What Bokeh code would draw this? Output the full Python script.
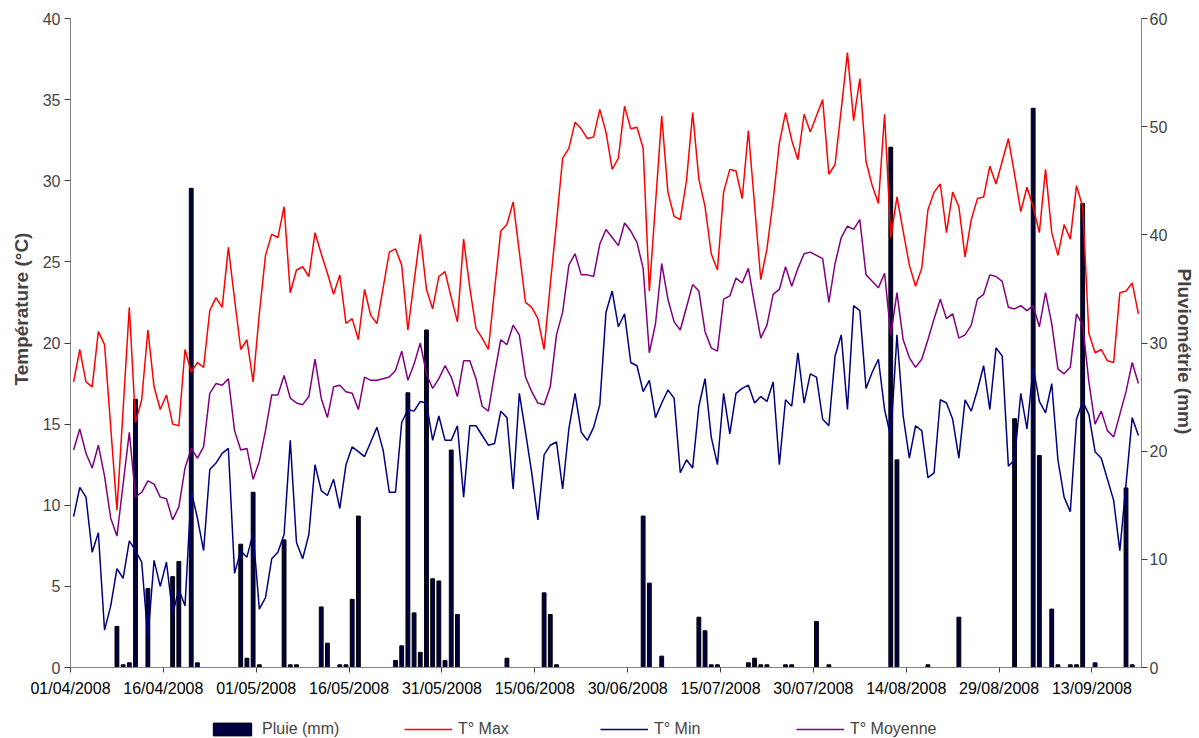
from bokeh.plotting import figure
from bokeh.layouts import column
from bokeh.models import (Range1d, LinearAxis, FixedTicker, Legend, LegendItem,
                          ColumnDataSource, Title)
from bokeh.embed import file_html
from bokeh.resources import INLINE

# ---------------- data ----------------
tick_labels = ["01/04/2008", "16/04/2008", "01/05/2008", "16/05/2008", "31/05/2008",
               "15/06/2008", "30/06/2008", "15/07/2008", "30/07/2008", "14/08/2008",
               "29/08/2008", "13/09/2008"]
tick_step = 15  # days between date labels

t_max = [17.6, 19.6, 17.6, 17.3, 20.7, 19.9, 14.8, 9.7, 15.9, 22.2,
         15.1, 16.5, 20.8, 17.3, 15.9, 16.8, 15.0, 14.9, 19.6, 18.2,
         18.8, 18.5, 22.0, 22.8, 22.2, 25.9, 22.7, 19.6, 20.2, 17.6,
         21.8, 25.4, 26.7, 26.5, 28.4, 23.1, 24.5, 24.7, 24.1, 26.8,
         25.5, 24.3, 23.0, 24.2, 21.2, 21.5, 20.2, 23.3, 21.7, 21.2,
         23.4, 25.6, 25.8, 24.8, 20.8, 23.8, 26.7, 23.3, 22.1, 24.1,
         24.4, 22.8, 21.3, 26.4, 23.4, 20.9, 20.3, 19.6, 23.3, 26.9,
         27.3, 28.7, 25.6, 22.5, 22.2, 21.5, 19.6, 23.6, 27.4, 31.4,
         32.0, 33.6, 33.2, 32.6, 32.7, 34.4, 33.0, 30.7, 31.4, 34.6,
         33.2, 33.3, 32.0, 23.2, 28.6, 34.0, 29.3, 27.8, 27.6, 30.0,
         34.2, 30.1, 28.4, 25.5, 24.5, 29.3, 30.7, 30.6, 28.9, 33.1,
         28.5, 23.9, 25.8, 28.8, 32.3, 34.2, 32.5, 31.3, 34.1, 33.0,
         34.0, 35.0, 30.4, 31.0, 34.4, 37.9, 33.7, 36.3, 31.2, 29.7,
         28.6, 34.1, 26.5, 29.0, 26.9, 24.8, 23.5, 24.6, 28.2, 29.3,
         29.8, 26.8, 29.3, 28.4, 25.3, 27.6, 28.9, 29.0, 30.9, 29.8,
         31.2, 32.6, 30.4, 28.1, 29.6, 28.4, 26.8, 30.7, 26.8, 25.4,
         27.3, 26.4, 29.7, 28.4, 20.6, 19.4, 19.6, 18.9, 18.8, 23.1,
         23.2, 23.7, 21.8]

t_min = [9.3, 11.1, 10.5, 7.1, 8.3, 2.3, 3.8, 6.1, 5.5, 7.8,
         7.2, 6.5, 1.8, 6.6, 5.0, 6.5, 3.3, 4.8, 3.8, 10.9,
         9.2, 7.2, 12.2, 12.6, 13.2, 13.5, 5.8, 7.2, 6.8, 8.3,
         3.6, 4.3, 6.7, 7.1, 8.2, 14.0, 7.7, 6.7, 8.2, 12.5,
         10.9, 10.6, 11.6, 9.8, 12.5, 13.6, 13.3, 13.0, 13.9, 14.8,
         13.4, 10.8, 10.8, 15.1, 15.9, 15.8, 16.4, 16.3, 14.0, 15.5,
         14.0, 14.0, 14.9, 10.5, 14.9, 14.9, 14.3, 13.7, 13.8, 15.8,
         15.4, 11.0, 16.9, 14.5, 12.0, 9.1, 13.1, 13.7, 13.9, 11.0,
         14.7, 16.9, 14.5, 14.0, 14.8, 16.2, 21.9, 23.2, 21.0, 21.8,
         18.8, 18.6, 17.0, 17.7, 15.4, 16.3, 17.1, 16.6, 12.0, 12.8,
         12.3, 16.1, 17.8, 14.2, 12.5, 16.9, 14.4, 16.9, 17.2, 17.4,
         16.3, 16.7, 16.4, 17.6, 12.5, 16.5, 16.1, 19.4, 16.3, 18.1,
         17.9, 15.3, 14.9, 19.2, 20.5, 15.9, 22.3, 22.0, 17.2, 18.2,
         19.0, 15.9, 14.2, 20.5, 15.5, 12.9, 14.9, 14.6, 11.7, 12.0,
         16.5, 16.3, 15.3, 12.9, 16.5, 15.8, 17.1, 18.6, 15.9, 19.7,
         19.2, 12.4, 12.8, 16.9, 14.7, 18.5, 16.4, 15.7, 17.5, 12.8,
         10.5, 9.6, 15.3, 16.4, 15.6, 13.3, 12.9, 11.6, 10.3, 7.2,
         11.3, 15.4, 14.3]

t_moy = [13.4, 14.7, 13.2, 12.3, 13.7, 11.8, 9.2, 8.1, 11.3, 14.5,
         10.5, 10.8, 11.5, 11.3, 10.5, 10.4, 9.1, 9.9, 12.3, 13.5,
         12.9, 13.6, 16.9, 17.5, 17.4, 17.8, 14.6, 13.4, 13.5, 11.6,
         12.7, 14.6, 16.8, 16.8, 18.0, 16.6, 16.3, 16.2, 16.7, 19.0,
         16.6, 15.4, 17.3, 17.4, 17.0, 16.9, 15.9, 17.9, 17.7, 17.7,
         17.8, 17.9, 18.3, 19.5, 17.7, 18.7, 20.0, 18.1, 17.2, 17.8,
         18.6, 17.9, 16.7, 18.9, 18.9, 17.8, 16.1, 15.8, 18.1, 20.2,
         19.9, 21.1, 20.5, 17.9, 17.0, 16.3, 16.2, 17.3, 20.5, 21.9,
         24.8, 25.5, 24.2, 24.2, 24.1, 26.1, 27.0, 26.5, 26.0, 27.4,
         26.9, 26.2, 24.6, 19.4, 21.2, 24.9, 22.7, 21.3, 20.8, 22.2,
         23.6, 23.2, 20.7, 19.7, 19.5, 22.7, 22.9, 24.0, 23.7, 24.6,
         22.4, 20.3, 21.1, 23.0, 23.3, 24.7, 23.5, 24.6, 25.5, 25.6,
         25.4, 25.2, 22.5, 24.9, 26.5, 27.2, 27.0, 27.6, 24.2, 23.8,
         23.4, 24.3, 20.5, 23.1, 20.2, 19.1, 18.5, 19.0, 20.2, 21.5,
         22.7, 21.5, 21.8, 20.3, 20.5, 21.1, 22.7, 23.0, 24.2, 24.1,
         23.8, 22.2, 22.1, 22.3, 22.0, 22.3, 21.0, 23.1, 21.2, 18.4,
         18.1, 18.5, 21.8, 21.1, 17.6, 15.0, 15.8, 14.6, 14.2, 15.6,
         17.0, 18.8, 17.5]

pluie = [0, 0, 0, 0, 0, 0, 0, 3.8, 0.25, 0.43,
         24.8, 0, 7.3, 0, 0, 0, 8.4, 9.8, 0, 44.3,
         0.43, 0, 0, 0, 0, 0, 0, 11.4, 0.86, 16.2,
         0.25, 0, 0, 0, 11.8, 0.25, 0.25, 0, 0, 0,
         5.6, 2.25, 0, 0.25, 0.25, 6.3, 14.0, 0, 0, 0,
         0, 0, 0.65, 2.0, 25.4, 5.05, 1.4, 31.2, 8.2, 8.0,
         0.65, 20.1, 4.9, 0, 0, 0, 0, 0, 0, 0,
         0.86, 0, 0, 0, 0, 0, 6.9, 4.9, 0.25, 0,
         0, 0, 0, 0, 0, 0, 0, 0, 0, 0,
         0, 0, 14.0, 7.8, 0, 1.05, 0, 0, 0, 0,
         0, 4.65, 3.4, 0.25, 0.25, 0, 0, 0, 0, 0.43,
         0.86, 0.25, 0.25, 0, 0, 0.25, 0.25, 0, 0, 0,
         4.25, 0, 0.25, 0, 0, 0, 0, 0, 0, 0,
         0, 0, 48.1, 19.2, 0, 0, 0, 0, 0.25, 0,
         0, 0, 0, 4.65, 0, 0, 0, 0, 0, 0,
         0, 0, 23.0, 0, 0, 51.7, 19.6, 0, 5.4, 0.25,
         0, 0.25, 0.25, 42.9, 0, 0.43, 0, 0, 0, 0,
         16.6, 0.25, 0]

series_names = ["Pluie (mm)", "T° Max", "T° Min", "T° Moyenne"]
series_colors = ["#000040", "#FF0000", "#000080", "#800080"]
axis_titles = ["Température (°C)", "Pluviométrie (mm)"]

# ---------------- main figure ----------------
n = len(t_max)
xc = [i + 0.5 for i in range(n)]
src = ColumnDataSource(dict(x=xc, tmax=t_max, tmin=t_min, tmoy=t_moy, pluie=pluie))

FONT = "Liberation Sans"
W = 1199

p = figure(width=W, height=718, output_backend="svg", toolbar_location=None,
           x_range=Range1d(0, n), y_range=Range1d(0, 40),
           min_border_left=70, min_border_right=57, min_border_top=18,
           min_border_bottom=51)
p.outline_line_color = None
p.xgrid.visible = False
p.ygrid.visible = False

p.extra_y_ranges = {"rain": Range1d(0, 60)}

p.vbar(x="x", top="pluie", width=0.62, source=src, y_range_name="rain",
       fill_color=series_colors[0], line_color="#000000", line_width=1)
p.line("x", "tmax", source=src, line_color=series_colors[1], line_width=1.5)
p.line("x", "tmin", source=src, line_color=series_colors[2], line_width=1.5)
p.line("x", "tmoy", source=src, line_color=series_colors[3], line_width=1.5)

# x axis
xa = p.xaxis[0]
xa.ticker = FixedTicker(ticks=[i * tick_step for i in range(len(tick_labels))])
xa.major_label_overrides = {i * tick_step: lab for i, lab in enumerate(tick_labels)}
xa.minor_tick_line_color = None
xa.major_tick_in = 0
xa.major_tick_out = 5
xa.major_label_standoff = 7
xa.axis_line_color = "#868686"
xa.major_tick_line_color = "#404040"
xa.major_label_text_font = FONT
xa.major_label_text_font_size = "16px"
xa.major_label_text_color = "#000000"

# left axis
ya = p.yaxis[0]
ya.ticker = FixedTicker(ticks=list(range(0, 41, 5)))
ya.minor_tick_line_color = None
ya.major_tick_in = 0
ya.major_tick_out = 6
ya.major_label_standoff = 4
ya.axis_line_color = "#868686"
ya.major_tick_line_color = "#404040"
ya.major_label_text_font = FONT
ya.major_label_text_font_size = "16px"

# right axis
ra = LinearAxis(y_range_name="rain",
                ticker=FixedTicker(ticks=list(range(0, 61, 10))))
ra.minor_tick_line_color = None
ra.major_tick_in = 0
ra.major_tick_out = 6
ra.major_label_standoff = 2
ra.axis_line_color = "#868686"
ra.major_tick_line_color = "#404040"
ra.major_label_text_font = FONT
ra.major_label_text_font_size = "16px"
p.add_layout(ra, "right")

# axis titles (side-panel titles, anchored so they sit where the original has them)
t_left = Title(text=axis_titles[0], align="left", offset=282, standoff=15,
               text_font=FONT, text_font_style="bold", text_font_size="19px")
t_right = Title(text=axis_titles[1], align="left", offset=250, standoff=6,
                text_font=FONT, text_font_style="bold", text_font_size="19px")
p.add_layout(t_left, "left")
p.add_layout(t_right, "right")

# ---------------- legend strip ----------------
lg = figure(width=W, height=20, output_backend="svg", toolbar_location=None,
            x_range=Range1d(0, 1), y_range=Range1d(0, 1),
            x_axis_location=None, y_axis_location=None, min_border=0)
lg.outline_line_color = None
lg.xgrid.visible = False
lg.ygrid.visible = False
r0 = lg.vbar(x=[0.5], top=[1], width=0.5, fill_color=series_colors[0], line_color="#000000")
r1 = lg.line(x=[0, 1], y=[0.5, 0.5], line_color=series_colors[1], line_width=1.5)
r2 = lg.line(x=[0, 1], y=[0.5, 0.5], line_color=series_colors[2], line_width=1.5)
r3 = lg.line(x=[0, 1], y=[0.5, 0.5], line_color=series_colors[3], line_width=1.5)
for r in (r0, r1, r2, r3):
    r.visible = False   # only their legend swatches are shown

legend = Legend(items=[LegendItem(label=series_names[0], renderers=[r0]),
                       LegendItem(label=series_names[1], renderers=[r1]),
                       LegendItem(label=series_names[2], renderers=[r2]),
                       LegendItem(label=series_names[3], renderers=[r3])],
                orientation="horizontal", location=(138, 0),
                glyph_width=48, glyph_height=16, label_standoff=6,
                label_width=138, spacing=4, padding=0, margin=0,
                border_line_color=None, background_fill_alpha=0,
                inactive_fill_alpha=0,
                label_text_font=FONT, label_text_font_size="16px")
lg.add_layout(legend, "center")

layout = column(p, lg, spacing=0)
open("out.html", "w").write(file_html(layout, INLINE))
